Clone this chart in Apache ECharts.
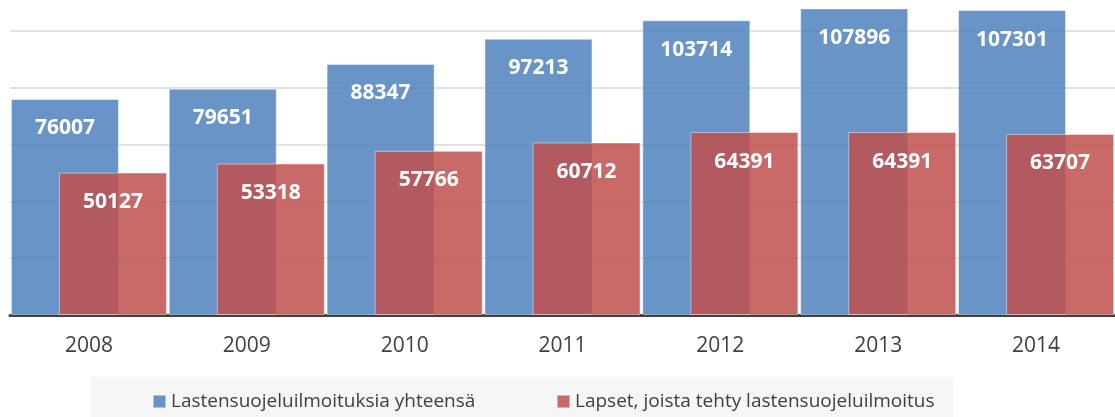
<!DOCTYPE html>
<html>
<head>
<meta charset="utf-8">
<script src="https://cdn.jsdelivr.net/npm/echarts@6/dist/echarts.min.js"></script>
<style>
  html, body { margin: 0; padding: 0; background: #fff; }
  #chart { width: 1115px; height: 417px; }
</style>
</head>
<body>
<div id="chart"></div>
<script>
var years = ['2008', '2009', '2010', '2011', '2012', '2013', '2014'];
var ilmoitukset = [76007, 79651, 88347, 97213, 103714, 107896, 107301];
var lapset = [50127, 53318, 57766, 60712, 64391, 64391, 63707];
var seriesNames = ['Lastensuojeluilmoituksia yhteensä', 'Lapset, joista tehty lastensuojeluilmoitus'];

var FONT = '"Open Sans", "Noto Sans", sans-serif';
var BLUE = 'rgba(79,129,189,0.85)';
var RED = 'rgba(192,80,77,0.85)';

function barLabel() {
  return {
    show: true,
    position: 'insideTop',
    distance: 19,
    color: '#fff',
    fontFamily: FONT,
    fontWeight: 'bold',
    fontSize: 21
  };
}

function legendFor(name, left) {
  return {
    top: 387,
    left: left,
    itemWidth: 13,
    itemHeight: 13,
    itemGap: 0,
    icon: 'rect',
    textStyle: { color: '#404040', fontFamily: FONT, fontSize: 19 },
    data: [name]
  };
}

var chart = echarts.init(document.getElementById('chart'), null, { renderer: 'canvas' });
chart.setOption({
  backgroundColor: '#fff',
  animation: false,
  graphic: [{
    type: 'rect',
    left: 91, top: 377,
    shape: { width: 862, height: 40 },
    style: { fill: '#f6f6f6' },
    z: -10
  }],
  grid: { left: 10, right: 0, top: -26, bottom: 102, outerBoundsMode: 'none', containLabel: false },
  legend: [legendFor(seriesNames[0], 147), legendFor(seriesNames[1], 551)],
  xAxis: {
    type: 'category',
    data: years,
    axisLine: { lineStyle: { color: '#404040', width: 3 } },
    axisTick: { show: false },
    axisLabel: { color: '#404040', fontFamily: FONT, fontSize: 21, margin: 21 }
  },
  yAxis: {
    type: 'value',
    min: 0,
    max: 120000,
    interval: 20000,
    axisLabel: { show: false },
    axisLine: { show: false },
    axisTick: { show: false },
    splitLine: { lineStyle: { color: '#d9d9d9', width: 1.5 } }
  },
  series: [
    {
      type: 'bar',
      name: seriesNames[0],
      data: ilmoitukset,
      barWidth: 108,
      barGap: '-55.5%',
      itemStyle: { color: BLUE, borderColor: 'rgba(255,255,255,0.45)', borderWidth: 1 },
      label: barLabel()
    },
    {
      type: 'bar',
      name: seriesNames[1],
      data: lapset,
      barWidth: 108,
      barGap: '-55.5%',
      itemStyle: { color: RED, borderColor: 'rgba(255,255,255,0.45)', borderWidth: 1 },
      label: barLabel()
    }
  ]
});
</script>
</body>
</html>
